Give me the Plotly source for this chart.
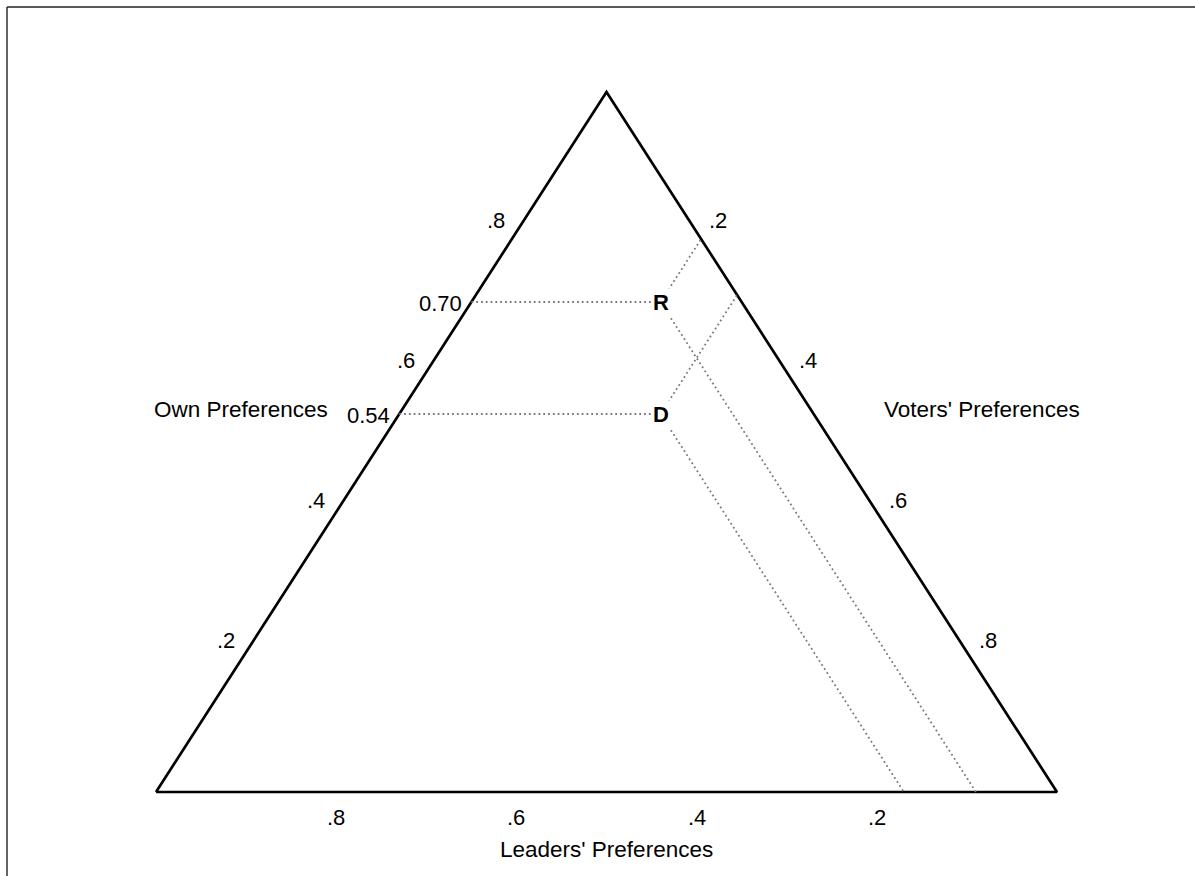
import plotly.graph_objects as go

# ---- data (ternary shares: Own = top vertex, Leaders = bottom-left, Voters = bottom-right)
party_labels = ["R", "D"]
own_pref = [0.70, 0.54]
leaders_pref = [0.09, 0.17]
voters_pref = [0.21, 0.29]
own_value_labels = ["0.70", "0.54"]

tick_values = [0.2, 0.4, 0.6, 0.8]
tick_labels = [".2", ".4", ".6", ".8"]

own_title = "Own Preferences"
voters_title = "Voters' Preferences"
leaders_title = "Leaders' Preferences"

FONT = "Liberation Sans, Arial, Helvetica, sans-serif"


def proj(a, b, c):
    """ternary (own, leaders, voters) -> cartesian in a unit-height triangle"""
    s = a + b + c
    a, b, c = a / s, b / s, c / s
    return 0.5 * a + c, a


fig = go.Figure()

# triangle outline
verts = [(0, 1, 0), (0, 0, 1), (1, 0, 0), (0, 1, 0)]
tx, ty = zip(*[proj(*v) for v in verts])
fig.add_trace(go.Scatter(x=tx, y=ty, mode="lines",
                         line=dict(color="black", width=2.7),
                         hoverinfo="skip", cliponaxis=False))

# dotted guide lines for each party
for a, b, c in zip(own_pref, leaders_pref, voters_pref):
    p = proj(a, b, c)
    left = proj(a, 1 - a, 0)        # constant own share -> left side
    right = proj(1 - c, 0, c)       # constant voters share -> right side
    bottom = proj(0, b, 1 - b)      # constant leaders share -> bottom
    xs = [left[0], p[0], None, p[0], right[0], None, p[0], bottom[0]]
    ys = [left[1], p[1], None, p[1], right[1], None, p[1], bottom[1]]
    fig.add_trace(go.Scatter(x=xs, y=ys, mode="lines",
                             line=dict(color="#7a7a7a", width=1.8, dash="1.8px,3px"),
                             hoverinfo="skip", cliponaxis=False))

ann = []
tfont = dict(family=FONT, size=22, color="black")
ttl_font = dict(family=FONT, size=22.5, color="black")

# left side ticks (Own)
for v, t in zip(tick_values, tick_labels):
    x, y = proj(v, 1 - v, 0)
    ann.append(dict(x=x, y=y, text=t, showarrow=False, font=tfont,
                    xanchor="center", yanchor="middle", xshift=-20, yshift=12))
# right side ticks (Voters)
for v, t in zip(tick_values, tick_labels):
    x, y = proj(1 - v, 0, v)
    ann.append(dict(x=x, y=y, text=t, showarrow=False, font=tfont,
                    xanchor="center", yanchor="middle", xshift=21, yshift=12))
# bottom ticks (Leaders)
for v, t in zip(tick_values, tick_labels):
    x, y = proj(0, v, 1 - v)
    ann.append(dict(x=x, y=y, text=t, showarrow=False, font=tfont,
                    xanchor="center", yanchor="middle", yshift=-25))

# own-preference value labels on the left side
for a, t in zip(own_pref, own_value_labels):
    x, y = proj(a, 1 - a, 0)
    ann.append(dict(x=x, y=y, text=t, showarrow=False, font=tfont,
                    xanchor="right", yanchor="middle", xshift=-7, yshift=-1))

# party points
for lab, a, b, c in zip(party_labels, own_pref, leaders_pref, voters_pref):
    x, y = proj(a, b, c)
    ann.append(dict(x=x, y=y, text="<b>%s</b>" % lab, showarrow=False,
                    font=dict(family=FONT, size=22, color="black"),
                    bgcolor="white", borderpad=1,
                    xanchor="center", yanchor="middle"))

# axis titles
bx, by = proj(0, 0.5, 0.5)
ann.append(dict(x=bx, y=by, text=leaders_title, showarrow=False, font=ttl_font,
                xanchor="center", yanchor="middle", yshift=-57))
ann.append(dict(x=0.193, y=0.546, text=own_title, showarrow=False, font=ttl_font,
                xanchor="right", yanchor="middle"))
ann.append(dict(x=0.806, y=0.546, text=voters_title, showarrow=False, font=ttl_font,
                xanchor="left", yanchor="middle"))

# page frame (left and top rules)
W, H = 1195, 876
ml, mr, mt, mb = 138, 120, 78, 70
pw, ph = W - ml - mr, H - mt - mb


def px2paper(px, py):
    return (px - ml) / pw, (H - mb - py) / ph


x0, y0 = px2paper(7, 7)
x1, y1 = px2paper(1200, 880)
shapes = [
    dict(type="line", xref="paper", yref="paper", x0=x0, y0=y0, x1=x1, y1=y0,
         line=dict(color="#222", width=1.6)),
    dict(type="line", xref="paper", yref="paper", x0=x0, y0=y0, x1=x0, y1=y1,
         line=dict(color="#222", width=1.4)),
]

fig.update_layout(
    width=W, height=H,
    margin=dict(l=ml, r=mr, t=mt, b=mb, autoexpand=False),
    paper_bgcolor="white", plot_bgcolor="white",
    showlegend=False,
    annotations=ann, shapes=shapes,
    xaxis=dict(range=[-0.02, 1.02], visible=False, fixedrange=True),
    yaxis=dict(range=[-0.02, 1.02], visible=False, fixedrange=True),
    font=dict(family=FONT),
)

fig.write_html("out.html", config={"displayModeBar": False},
               post_script="document.body.style.margin='0';document.body.style.overflow='hidden';")
